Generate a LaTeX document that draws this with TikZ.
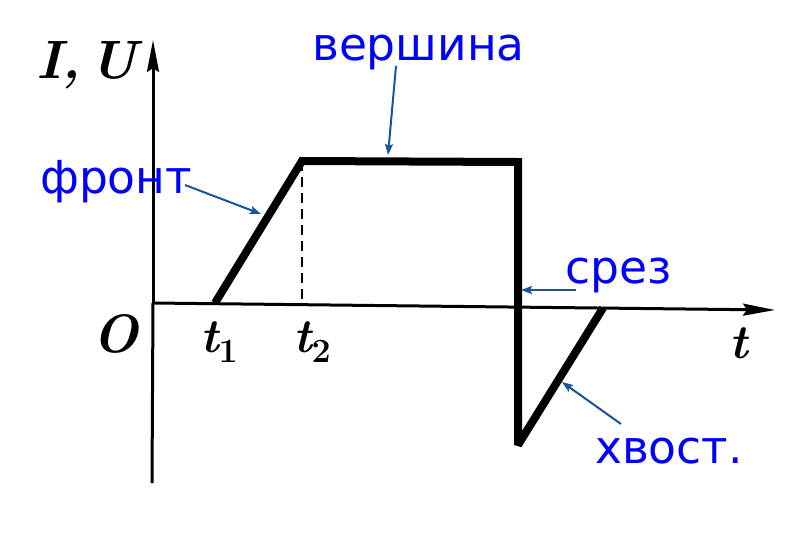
\documentclass[tikz,border=0pt]{standalone}
\usepackage{fontspec}
\newfontfamily\labfont{DejaVu Sans}
\usetikzlibrary{arrows.meta}
\definecolor{lblblue}{RGB}{0,0,255}
\definecolor{arrblue}{RGB}{25,85,150}
\newcommand{\subsc}[1]{\raisebox{-10pt}{\fontsize{34}{36}\selectfont\upshape #1}}
\begin{document}
\begin{tikzpicture}[x=1pt,y=-1pt,
  lbl/.style={font=\labfont\fontsize{45.5}{48}\selectfont, text=lblblue, inner sep=0pt, anchor=base west},
  mlbl/.style={font=\fontsize{54}{58}\selectfont\bfseries\itshape, inner sep=0pt, anchor=base west},
  tlbl/.style={font=\fontsize{48}{52}\selectfont\bfseries\itshape, inner sep=0pt, anchor=base west},
  axisline/.style={line width=3pt, -{Stealth[length=32pt,width=12pt,inset=4pt]}},
  pulse/.style={line width=8pt, line join=miter, miter limit=2, line cap=butt},
  pointer/.style={draw=arrblue, line width=2pt, -{Stealth[length=11pt,width=8pt,inset=2pt]}}]
\useasboundingbox (0,0) rectangle (798,552);
\fill[white] (0,0) rectangle (798,552);
% axes
\coordinate (orig) at (153,303);
\coordinate (ytop) at (153,40);
\coordinate (ybot) at (152,483);
\coordinate (xend) at (775,310);
\draw[line width=3pt] (ybot) -- (orig);
\draw[axisline] (orig) -- (ytop);
\draw[axisline] (orig) -- (xend);
% pulse
\coordinate (t1) at (215,303);
\coordinate (tl) at (302,161);
\coordinate (tr) at (518,162);
\coordinate (bt) at (518,445);
\coordinate (te) at (603,308);
\coordinate (t2) at (302,303);
\draw[pulse] (t1) -- (tl) -- (tr) -- (bt) -- (te);
\draw[line width=2pt, dash pattern=on 10pt off 6pt] (tl) -- (t2);
% math labels
\node[mlbl] (IU) at (36,78) {I,\,U};
\node[mlbl] (O) at (92,352) {O};
\node[tlbl] (lt1) at (200,352) {t\subsc{1}};
\node[tlbl] (lt2) at (293,352) {t\subsc{2}};
\node[tlbl] (lt) at (729,358) {t};
% blue labels
\node[lbl] (vers) at (312,60) {вершина};
\node[lbl] (front) at (40,193) {фронт};
\node[lbl] (srez) at (565,283) {срез};
\node[lbl] (hvost) at (595,463) {хвост.};
% pointers
\coordinate (p1s) at (396,66);
\coordinate (p1e) at (388,155);
\coordinate (p2s) at (185,185);
\coordinate (p2e) at (261,214);
\coordinate (p3s) at (576,290);
\coordinate (p3e) at (521,290);
\coordinate (p4s) at (621,424);
\coordinate (p4e) at (562,382);
\draw[pointer] (p1s) -- (p1e);
\draw[pointer] (p2s) -- (p2e);
\draw[pointer] (p3s) -- (p3e);
\draw[pointer] (p4s) -- (p4e);
\end{tikzpicture}
\end{document}
